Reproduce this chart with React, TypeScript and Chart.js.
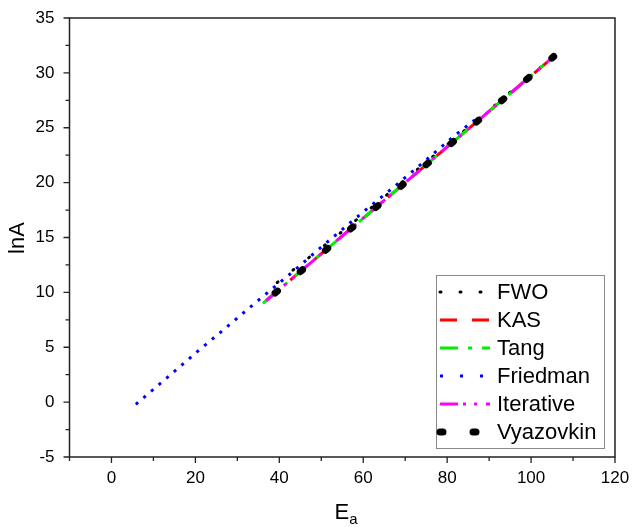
import React, { useEffect, useRef } from 'react';
import { Chart, registerables } from 'chart.js';
Chart.register(...registerables);

// ---- data (Ea in kJ/mol, lnA) ----
const fwoEa = [39.5, 46.5, 54.5, 62.5, 71.0, 79.5, 88.5, 97.0, 105.6];
const fwoLnA = [10.9, 13.0, 15.4, 17.9, 20.6, 23.3, 26.1, 28.9, 31.5];

const kasEa = [36.8, 44.5, 52.6, 61.0, 69.5, 78.2, 87.0, 96.0, 105.2];
const kasLnA = [9.23, 11.73, 14.36, 17.08, 19.84, 22.67, 25.52, 28.44, 31.43];

const tangEa = [36.1, 44.3, 52.4, 60.8, 69.3, 78.0, 86.9, 95.8, 105.0];
const tangLnA = [9.0, 11.66, 14.29, 17.02, 19.78, 22.6, 25.49, 28.38, 31.36];

const friedmanEa = [5.8, 13.2, 20.3, 27.5, 34.6, 42.5, 51.0, 59.9, 67.3, 74.5, 81.5, 86.5];
const friedmanLnA = [-0.2, 2.2, 4.55, 6.85, 9.15, 11.65, 14.45, 17.3, 19.6, 21.9, 24.2, 25.7];

const iterEa = [36.9, 44.6, 52.7, 61.1, 69.6, 78.3, 87.1, 96.1, 105.3];
const iterLnA = [9.26, 11.76, 14.39, 17.12, 19.87, 22.7, 25.56, 28.48, 31.46];

const vyaEa = [39.0, 46.0, 54.0, 62.0, 70.5, 79.0, 88.0, 96.5, 105.4];
const vyaLnA = [9.94, 12.21, 14.81, 17.41, 20.17, 22.93, 25.85, 28.61, 31.49];

const seriesNames = ['FWO', 'KAS', 'Tang', 'Friedman', 'Iterative', 'Vyazovkin'];

const xTickValues = [0, 20, 40, 60, 80, 100, 120];
const yTickValues = [-5, 0, 5, 10, 15, 20, 25, 30, 35];

const xMin = -10, xMax = 120, xMajor = 20, xMinor = 10;
const yMin = -5, yMax = 35, yMajor = 5, yMinor = 2.5;

const FONT = "'Liberation Sans', Arial, sans-serif";

type Style = { color: string; width: number; dash: number[]; legendDash: number[]; cap: CanvasLineCap };
const styles: Style[] = [
  { color: '#000000', width: 3, dash: [1, 19], legendDash: [1, 19], cap: 'round' },
  { color: '#ff0000', width: 3, dash: [17, 15], legendDash: [17, 15], cap: 'butt' },
  { color: '#00ee00', width: 3, dash: [18, 10, 4, 10], legendDash: [18, 10, 4, 10], cap: 'butt' },
  { color: '#0000ff', width: 3, dash: [3, 7], legendDash: [3, 17], cap: 'butt' },
  { color: '#ff00ff', width: 3, dash: [18, 5, 3, 8, 3, 9], legendDash: [18, 5, 3, 8, 3, 9], cap: 'butt' },
  { color: '#000000', width: 7, dash: [3, 30], legendDash: [3, 30], cap: 'round' },
];

const pts = (xs: number[], ys: number[]) => xs.map((x, i) => ({ x, y: ys[i] }));

const decor = {
  id: 'decor',
  afterDatasetsDraw(chart: any) {
    const { ctx, chartArea: a, scales } = chart;
    const xs = scales.x, ys = scales.y;
    ctx.save();
    ctx.strokeStyle = '#222';
    ctx.lineWidth = 1.5;
    ctx.strokeRect(a.left, a.top, a.right - a.left, a.bottom - a.top);
    ctx.lineWidth = 1.3;
    ctx.beginPath();
    for (let v = xMin; v <= xMax + 1e-6; v += xMinor) {
      const p = xs.getPixelForValue(v);
      const major = Math.abs(v / xMajor - Math.round(v / xMajor)) < 1e-6;
      ctx.moveTo(p, a.bottom);
      ctx.lineTo(p, a.bottom + (major ? 6 : 4));
    }
    for (let v = yMin; v <= yMax + 1e-6; v += yMinor) {
      const p = ys.getPixelForValue(v);
      const major = Math.abs(v / yMajor - Math.round(v / yMajor)) < 1e-6;
      ctx.moveTo(a.left, p);
      ctx.lineTo(a.left - (major ? 6 : 4), p);
    }
    ctx.stroke();
    ctx.restore();
  },
  afterDraw(chart: any) {
    const { ctx } = chart;
    ctx.save();
    // axis titles
    ctx.fillStyle = '#000';
    ctx.font = `22px ${FONT}`;
    ctx.textAlign = 'center';
    ctx.textBaseline = 'middle';
    ctx.save();
    ctx.translate(18, 238);
    ctx.rotate(-Math.PI / 2);
    ctx.fillText('lnA', 0, 0);
    ctx.restore();
    ctx.textAlign = 'left';
    ctx.textBaseline = 'alphabetic';
    ctx.font = `22px ${FONT}`;
    const eW = ctx.measureText('E').width;
    ctx.font = `15px ${FONT}`;
    const aW = ctx.measureText('a').width;
    const x0 = 346 - (eW + aW) / 2;
    ctx.font = `22px ${FONT}`;
    ctx.fillText('E', x0, 519);
    ctx.font = `15px ${FONT}`;
    ctx.fillText('a', x0 + eW, 524);

    // legend
    const bx = 436, by = 275, bw = 168, bh = 173;
    ctx.fillStyle = '#fff';
    ctx.fillRect(bx, by, bw, bh);
    ctx.strokeStyle = '#888';
    ctx.lineWidth = 1;
    ctx.strokeRect(bx + 0.5, by + 0.5, bw, bh);
    seriesNames.forEach((name, i) => {
      const y = 292 + i * 28;
      const s = styles[i];
      ctx.save();
      ctx.strokeStyle = s.color;
      ctx.lineWidth = s.width;
      ctx.lineCap = s.cap;
      ctx.setLineDash(s.legendDash);
      ctx.beginPath();
      ctx.moveTo(440, y);
      ctx.lineTo(490, y);
      ctx.stroke();
      ctx.restore();
      ctx.fillStyle = '#000';
      ctx.font = `22px ${FONT}`;
      ctx.textBaseline = 'middle';
      ctx.fillText(name, 497, y + 1);
    });
    ctx.restore();
  },
};

const noPad = (s: any) => {
  s.paddingTop = 0;
  s.paddingBottom = 0;
  s.paddingLeft = 0;
  s.paddingRight = 0;
};

export default function App() {
  const ref = useRef<HTMLCanvasElement>(null);
  useEffect(() => {
    document.body.style.margin = '0';
    const datasetsData = [
      pts(fwoEa, fwoLnA),
      pts(kasEa, kasLnA),
      pts(tangEa, tangLnA),
      pts(friedmanEa, friedmanLnA),
      pts(iterEa, iterLnA),
      pts(vyaEa, vyaLnA),
    ];
    const drawOrder = [5, 3, 2, 4, 1, 0];
    const chart = new Chart(ref.current!, {
      type: 'scatter',
      data: {
        datasets: datasetsData.map((d, i) => ({
          label: seriesNames[i],
          data: d,
          showLine: true,
          fill: false,
          pointRadius: 0,
          borderColor: styles[i].color,
          borderWidth: styles[i].width,
          borderDash: styles[i].dash,
          borderCapStyle: styles[i].cap,
          tension: 0,
          order: drawOrder[i],
        })),
      },
      options: {
        animation: false,
        responsive: false,
        maintainAspectRatio: false,
        layout: { padding: { top: 18, right: 18, left: 0, bottom: 0 } },
        plugins: { legend: { display: false }, tooltip: { enabled: false } },
        scales: {
          x: {
            type: 'linear',
            min: xMin,
            max: xMax,
            grid: { display: false, drawTicks: false },
            border: { display: false },
            afterBuildTicks: (s: any) => { s.ticks = xTickValues.map((v) => ({ value: v })); },
            ticks: {
              autoSkip: false,
              maxRotation: 0,
              padding: 11,
              color: '#000',
              font: { family: FONT, size: 17 },
              callback: (v: any) => String(v),
            },
            afterFit: (s: any) => { s.height = 70; noPad(s); },
          },
          y: {
            type: 'linear',
            min: yMin,
            max: yMax,
            grid: { display: false, drawTicks: false },
            border: { display: false },
            afterBuildTicks: (s: any) => { s.ticks = yTickValues.map((v) => ({ value: v })); },
            ticks: {
              autoSkip: false,
              padding: 15,
              color: '#000',
              font: { family: FONT, size: 17 },
              callback: (v: any) => String(v),
            },
            afterFit: (s: any) => { s.width = 69.5; noPad(s); },
          },
        },
      },
      plugins: [decor],
    } as any);
    return () => chart.destroy();
  }, []);
  return <canvas ref={ref} width={633} height={527} />;
}
